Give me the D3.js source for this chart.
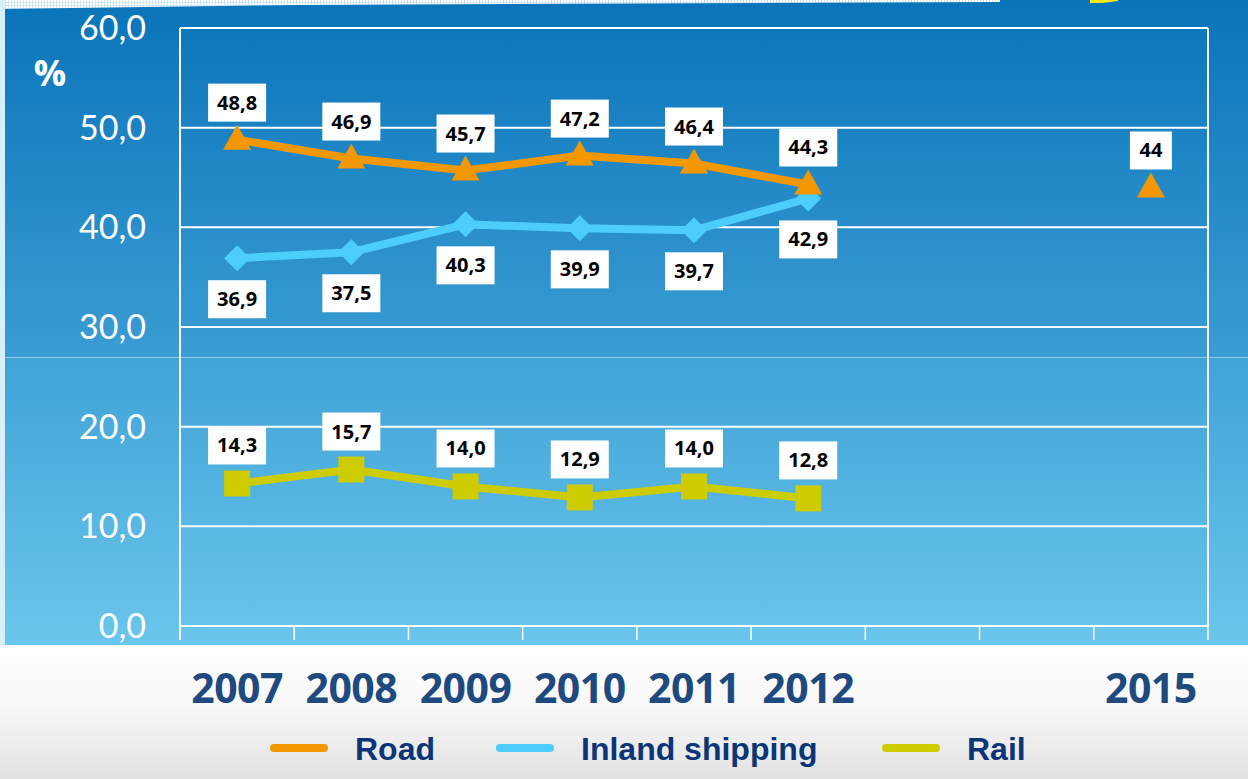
<!DOCTYPE html>
<html>
<head>
<meta charset="utf-8">
<script src="https://cdn.jsdelivr.net/npm/d3@7"></script>
<style>
body { margin: 0; background: #fff; }
svg { display: block; }
</style>
</head>
<body>
<div id="chart"></div>
<script>
// data
var years = ["2007", "2008", "2009", "2010", "2011", "2012", "2013", "2014", "2015"];
var yearLabels = ["2007", "2008", "2009", "2010", "2011", "2012", "", "", "2015"];
var road = [48.8, 46.9, 45.7, 47.2, 46.4, 44.3];
var roadTarget = [{year: "2015", value: 44}];
var inland = [36.9, 37.5, 40.3, 39.9, 39.7, 42.9];
var rail = [14.3, 15.7, 14.0, 12.9, 14.0, 12.8];
var yTicks = [0, 10, 20, 30, 40, 50, 60];
var seriesNames = ["Road", "Inland shipping", "Rail"];

var W = 1248, H = 779;
var margin = {top: 28, right: 40, bottom: 153, left: 180};
var width = W - margin.left - margin.right;
var height = H - margin.top - margin.bottom;

var colors = {Road: "#f39800", "Inland shipping": "#4dcdfc", Rail: "#cccc00"};
var fmt = d => d3.format(".1f")(d).replace(".", ",");

// marker shapes (custom, sized to match)
var triPath = "M0,-15 L14,10 L-14,10 Z";
var diaPath = "M0,-13 L13,0 L0,13 L-13,0 Z";
var sqPath = "M-13,-13 L13,-13 L13,13 L-13,13 Z";

var svg = d3.select("#chart").append("svg")
	.attr("width", W)
	.attr("height", H);

var defs = svg.append("defs");
var g1 = defs.append("linearGradient").attr("id", "bgTop").attr("x1", 0).attr("y1", 0).attr("x2", 0).attr("y2", 1);
g1.append("stop").attr("offset", "0%").attr("stop-color", "#0a74ba");
g1.append("stop").attr("offset", "100%").attr("stop-color", "#3a9dd3");
var g2 = defs.append("linearGradient").attr("id", "bgBot").attr("x1", 0).attr("y1", 0).attr("x2", 0).attr("y2", 1);
g2.append("stop").attr("offset", "0%").attr("stop-color", "#40a3d7");
g2.append("stop").attr("offset", "100%").attr("stop-color", "#6ac6ec");
var g3 = defs.append("linearGradient").attr("id", "bgWhite").attr("x1", 0).attr("y1", 0).attr("x2", 0).attr("y2", 1);
g3.append("stop").attr("offset", "0%").attr("stop-color", "#ffffff");
g3.append("stop").attr("offset", "45%").attr("stop-color", "#f8f8f8");
g3.append("stop").attr("offset", "100%").attr("stop-color", "#e2e2e2");
var pat = defs.append("pattern").attr("id", "dots").attr("width", 3).attr("height", 3).attr("patternUnits", "userSpaceOnUse");
pat.append("rect").attr("width", 3).attr("height", 3).attr("fill", "#cfe6f5");
pat.append("rect").attr("width", 2).attr("height", 2).attr("fill", "#ffffff");

// background
svg.append("rect").attr("width", W).attr("height", 358).attr("fill", "url(#bgTop)");
svg.append("rect").attr("y", 358).attr("width", W).attr("height", 287).attr("fill", "url(#bgBot)");
svg.append("line").attr("x1", 0).attr("x2", W).attr("y1", 357.5).attr("y2", 357.5)
	.attr("stroke", "#8fcbea").attr("stroke-width", 1);
svg.append("rect").attr("y", 645).attr("width", W).attr("height", H - 645).attr("fill", "url(#bgWhite)");
svg.append("path").attr("d", "M0,0 L1000,0 L1000,2 L300,5 L0,9 Z").attr("fill", "url(#dots)");
svg.append("rect").attr("x", 0).attr("y", 0).attr("width", 5).attr("height", 645).attr("fill", "#d6f1fc");
svg.append("path").attr("d", "M1090,0 L1118,0 L1118,1 L1102,3 L1090,3 Z").attr("fill", "#ffe81a");

var chart = svg.append("g")
	.attr("transform", "translate(" + margin.left + "," + margin.top + ")");

var x = d3.scaleBand().domain(years).range([0, width]);
var y = d3.scaleLinear().domain([0, 60]).range([598, 0]);

// gridlines
chart.selectAll(".grid")
	.data(yTicks)
	.enter().append("line")
	.attr("class", "grid")
	.attr("x1", 0).attr("x2", width)
	.attr("y1", d => y(d)).attr("y2", d => y(d))
	.attr("stroke", "#fff").attr("stroke-width", 2);

chart.append("line").attr("x1", width).attr("x2", width).attr("y1", y(60)).attr("y2", y(0))
	.attr("stroke", "#fff").attr("stroke-width", 2);
chart.append("line").attr("x1", 0).attr("x2", 0).attr("y1", y(60)).attr("y2", y(0) + 14)
	.attr("stroke", "#fff").attr("stroke-width", 2);

// x ticks
chart.selectAll(".xtick")
	.data(years.concat(["end"]))
	.enter().append("line")
	.attr("class", "xtick")
	.attr("x1", (d, i) => i * x.bandwidth()).attr("x2", (d, i) => i * x.bandwidth())
	.attr("y1", y(0)).attr("y2", y(0) + 14)
	.attr("stroke", "#fff").attr("stroke-width", 1.5);

// y labels
chart.selectAll(".ylab")
	.data(yTicks)
	.enter().append("text")
	.attr("class", "ylab")
	.attr("x", -34)
	.attr("y", d => y(d) + 12)
	.attr("text-anchor", "end")
	.attr("fill", "#fff")
	.style("font-family", "Lato, 'Open Sans', sans-serif")
	.style("font-size", "34px")
	.text(d => fmt(d));

svg.append("text")
	.attr("x", 50).attr("y", 86)
	.attr("text-anchor", "middle")
	.attr("fill", "#fff")
	.style("font-family", "'Open Sans', sans-serif")
	.style("font-weight", "bold")
	.style("font-size", "36px")
	.text("%");

// x labels
chart.selectAll(".xlab")
	.data(yearLabels)
	.enter().append("text")
	.attr("class", "xlab")
	.attr("x", (d, i) => x(years[i]) + x.bandwidth() / 2)
	.attr("y", 675)
	.attr("text-anchor", "middle")
	.attr("fill", "#1f4a80")
	.style("font-family", "'Open Sans', sans-serif")
	.style("font-weight", "bold")
	.style("font-size", "41px")
	.style("letter-spacing", "-0.5px")
	.text(d => d);

var cx = (d, i) => x(years[i]) + x.bandwidth() / 2;
var line = d3.line().x(cx).y(d => y(d));

function drawSeries(data, name, shape, labelDy) {
	var col = colors[name];
	chart.append("path")
		.datum(data)
		.attr("fill", "none")
		.attr("stroke", col)
		.attr("stroke-width", 8)
		.attr("d", line);
	chart.append("g").selectAll("path")
		.data(data)
		.enter().append("path")
		.attr("transform", (d, i) => "translate(" + cx(d, i) + "," + y(d) + ")")
		.attr("d", shape)
		.attr("fill", col);
	return data.map((d, i) => ({x: cx(d, i), y: y(d) + labelDy, text: fmt(d)}));
}

var labels = [];
// inland first so road draws on top at 2012
labels = labels.concat(drawSeries(inland, "Inland shipping", diaPath, 41));
labels = labels.concat(drawSeries(road, "Road", triPath, -37));
labels = labels.concat(drawSeries(rail, "Rail", sqPath, -38));

chart.selectAll(".target")
	.data(roadTarget)
	.enter().append("path")
	.attr("transform", d => "translate(" + (x(d.year) + x.bandwidth() / 2) + "," + y(d.value) + ")")
	.attr("d", triPath)
	.attr("fill", colors.Road);
roadTarget.forEach(d => labels.push({x: x(d.year) + x.bandwidth() / 2, y: y(d.value) - 37, text: String(d.value), w: 42}));

var lab = chart.selectAll(".dlab")
	.data(labels)
	.enter().append("g")
	.attr("transform", d => "translate(" + d.x + "," + d.y + ")");
lab.append("rect")
	.attr("x", d => -(d.w || 58) / 2).attr("y", -19)
	.attr("width", d => d.w || 58).attr("height", 38)
	.attr("fill", "#fff");
lab.append("text")
	.attr("text-anchor", "middle")
	.attr("y", 7)
	.attr("fill", "#000")
	.style("font-family", "'Open Sans', sans-serif")
	.style("font-weight", "bold")
	.style("font-size", "20px")
	.text(d => d.text);

// legend
var legendX = [270, 496, 882];
var legend = svg.selectAll(".legend")
	.data(seriesNames)
	.enter().append("g")
	.attr("class", "legend")
	.attr("transform", (d, i) => "translate(" + legendX[i] + ",748)");
legend.append("line")
	.attr("x1", 4).attr("x2", 54)
	.attr("stroke", d => colors[d])
	.attr("stroke-width", 8)
	.attr("stroke-linecap", "round");
legend.append("text")
	.attr("x", 85)
	.attr("y", 12)
	.attr("fill", "#0b3576")
	.style("font-family", "'Liberation Sans', Arial, sans-serif")
	.style("font-weight", "bold")
	.style("font-size", "32px")
	.text(d => d);
</script>
</body>
</html>
